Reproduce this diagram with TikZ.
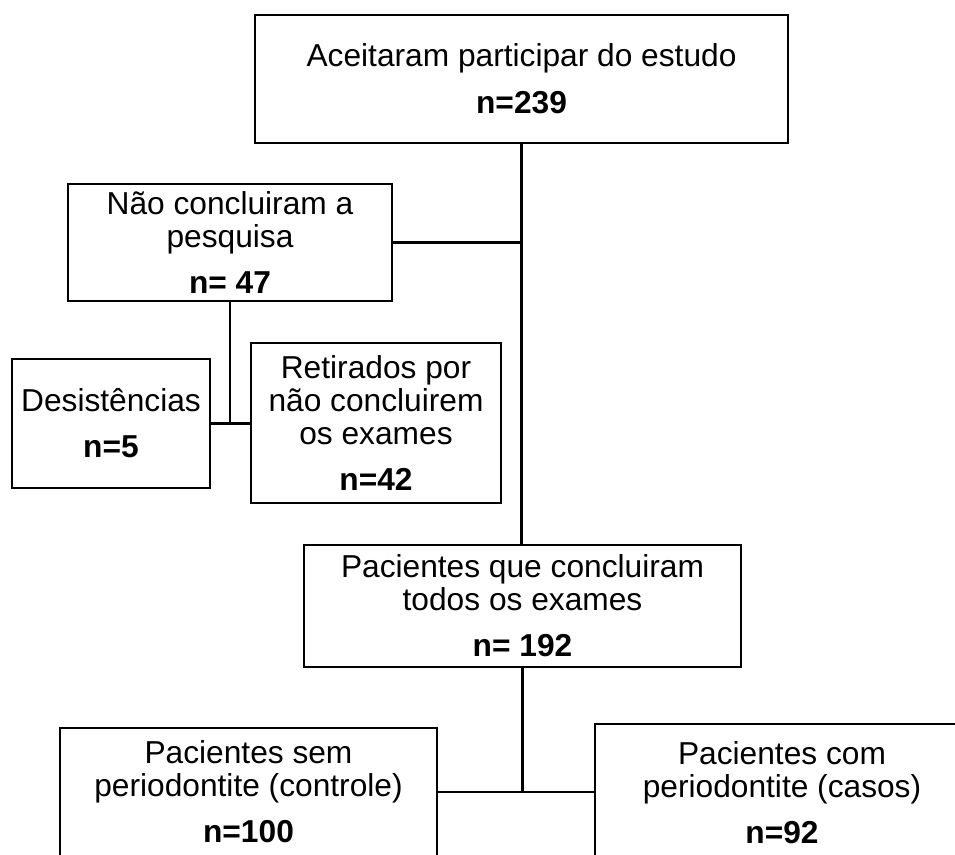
\documentclass[tikz,border=0pt]{standalone}
\usepackage{fontspec}
\setmainfont{Liberation Sans}
\begin{document}
\begin{tikzpicture}[x=1pt,y=-1pt,
  box/.style={draw, line width=2.6pt, rectangle, inner sep=0pt, align=center,
    font=\fontsize{31.7}{33}\selectfont},
  link/.style={line width=2.6pt}]
\useasboundingbox (0,0) rectangle (955,854);
\node[box, minimum width=533pt, minimum height=128pt] (top) at (521.5,79)
  {Aceitaram participar do estudo\\[14pt]\textbf{n=239}};
\node[box, minimum width=324pt, minimum height=117pt] (nao) at (230,242.5)
  {Não concluiram a\\pesquisa\\[13pt]\textbf{n= 47}};
\node[box, minimum width=198pt, minimum height=129pt] (des) at (111,423.5)
  {Desistências\\[13pt]\textbf{n=5}};
\node[box, minimum width=250pt, minimum height=160pt] (ret) at (376,423)
  {Retirados por\\não concluirem\\os exames\\[13pt]\textbf{n=42}};
\node[box, minimum width=437pt, minimum height=122pt] (pac) at (522.5,606)
  {Pacientes que concluiram\\todos os exames\\[13pt]\textbf{n= 192}};
\node[box, minimum width=377pt, minimum height=128pt] (sem) at (248.5,792)
  {Pacientes sem\\periodontite (controle)\\[13pt]\textbf{n=100}};
\node[box, minimum width=374pt, minimum height=138pt] (com) at (782,793)
  {Pacientes com\\periodontite (casos)\\[13pt]\textbf{n=92}};
\draw[link] (top.south) -- (top.south |- pac.north);
\draw[link] (nao.east) -- (nao.east -| top.south);
\draw[link] (nao.south) -- (nao.south |- des.east);
\draw[link] (des.east) -- (des.east -| ret.west);
\draw[link] (pac.south) -- (pac.south |- sem.east);
\draw[link] (sem.east) -- (sem.east -| com.west);
\end{tikzpicture}
\end{document}
